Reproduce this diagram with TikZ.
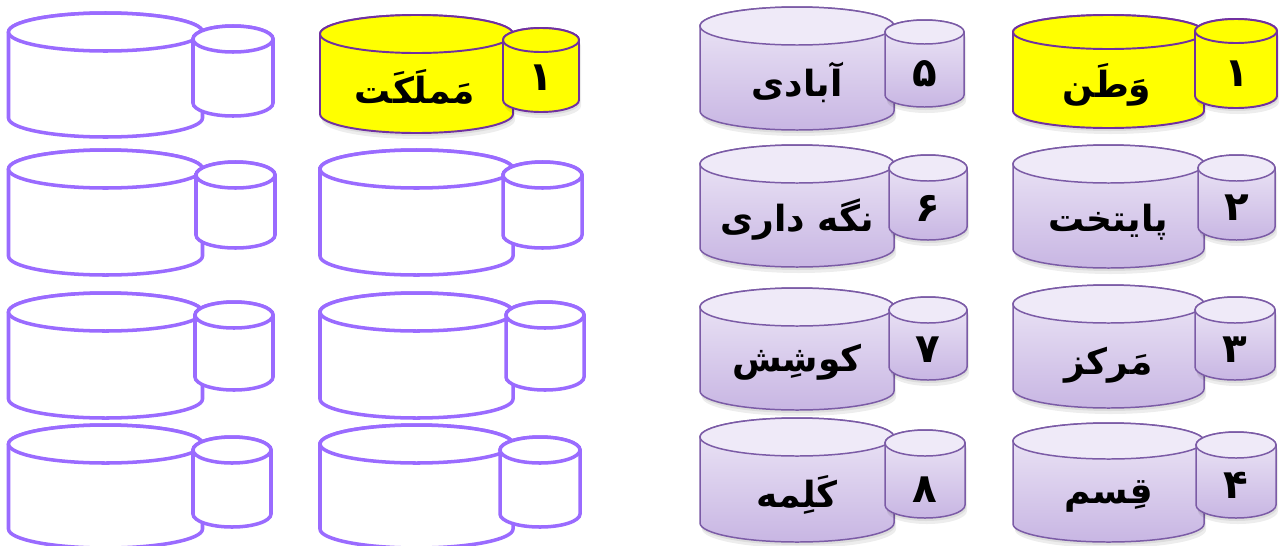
\documentclass[tikz,border=0pt]{standalone}
\usepackage{fontspec}
\TeXXeTstate=1
\newfontfamily\fa[Script=Arabic]{DejaVu Sans}
\definecolor{lavtop}{HTML}{EEE8F7}
\definecolor{lavbot}{HTML}{C8B6E3}
\definecolor{lavcapc}{HTML}{EFEAF8}
\definecolor{lavline}{HTML}{7B5BA6}
\definecolor{yelline}{HTML}{7030A0}
\definecolor{yelfill}{HTML}{FFFF00}
\definecolor{emptyline}{HTML}{9A6BFF}
\tikzset{
  lavbody/.style={top color=lavtop, bottom color=lavbot, draw=lavline, line width=0.85pt},
  lavcap/.style={fill=lavcapc, draw=lavline, line width=0.85pt},
  lavshadow/.style={fill=black, fill opacity=0.07},
  yelbody/.style={fill=yelfill, draw=yelline, line width=1.1pt},
  yelcap/.style={fill=yelfill, draw=yelline, line width=1.1pt},
  yelshadow/.style={fill=black, fill opacity=0.07},
  emptybody/.style={fill=white, draw=emptyline, line width=2pt},
  emptycap/.style={fill=white, draw=emptyline, line width=2pt},
  emptyshadow/.style={},
  word/.style={font={\fa\bfseries\fontsize{20.5}{23}\selectfont}, text=black, inner sep=0pt},
  num/.style={font={\fa\bfseries\fontsize{23}{25}\selectfont}, text=black, inner sep=0pt},
}
% #1 cx, #2 width, #3 top (px), #4 bottom (px), #5 ry, #6 kind
\newcommand{\drumoutline}[5]{%
  (\dxl+#1,\dyt+#2) -- (\dxl+#1,\dyb+#2)
     arc[start angle=180, end angle=360, x radius=\drx, y radius=#3]
     -- (\dxr+#1,\dyt+#2)
     arc[start angle=0, end angle=180, x radius=\drx, y radius=#3] -- cycle}
\newcommand{\drum}[6]{%
  \pgfmathsetmacro\dxl{#1-#2/2}%
  \pgfmathsetmacro\dxr{#1+#2/2}%
  \pgfmathsetmacro\dyt{-(#3+#5)}%
  \pgfmathsetmacro\dyb{-(#4-#5)}%
  \pgfmathsetmacro\drx{#2/2}%
  \path[#6shadow] \drumoutline{1}{-3}{#5}{}{};
  \path[#6shadow] \drumoutline{2}{-6}{#5}{}{};
  \path[#6body] \drumoutline{0}{0}{#5}{}{};
  \path[#6cap] (#1,\dyt) ellipse[x radius=\drx, y radius=#5];
}
\begin{document}
\begin{tikzpicture}[x=0.02cm, y=0.02cm]
\useasboundingbox (0,0) rectangle (1280,-545);

% ---- column A (left, empty)
\drum{105.5}{194}{13}{137}{19}{empty}  \drum{233}{80}{26}{116}{13}{empty}
\drum{105.5}{194}{150}{275}{19}{empty} \drum{235.5}{79}{162}{248}{13}{empty}
\drum{105.5}{194}{293}{418}{19}{empty} \drum{234}{78}{302}{390}{13}{empty}
\drum{105.5}{194}{425}{548}{19}{empty} \drum{232}{78}{437}{527}{13}{empty}

% ---- column B
\drum{416.5}{193}{15}{133}{19}{yel}    \drum{541}{76}{28}{112}{12}{yel}
\drum{416.5}{193}{150}{275}{19}{empty} \drum{542.5}{79}{162}{248}{13}{empty}
\drum{416.5}{193}{293}{418}{19}{empty} \drum{545}{78}{302}{390}{13}{empty}
\drum{416.5}{193}{425}{548}{19}{empty} \drum{540}{80}{437}{527}{13}{empty}

% ---- column C
\drum{797}{194}{7}{130}{19}{lav}   \drum{924.5}{79}{20}{107}{12}{lav}
\drum{797}{194}{145}{267}{19}{lav} \drum{928}{78}{155}{240}{13}{lav}
\drum{797}{194}{288}{410}{19}{lav} \drum{928}{78}{297}{380}{13}{lav}
\drum{797}{194}{418}{542}{19}{lav} \drum{925}{80}{430}{518}{13}{lav}

% ---- column D
\drum{1108.5}{191}{15}{128}{17}{yel}  \drum{1236}{82}{19}{108}{12}{yel}
\drum{1108.5}{191}{145}{268}{19}{lav} \drum{1236.5}{77}{155}{240}{13}{lav}
\drum{1108.5}{191}{285}{408}{19}{lav} \drum{1235}{80}{297}{380}{13}{lav}
\drum{1108.5}{191}{423}{542}{18}{lav} \drum{1236}{80}{432}{518}{13}{lav}

% ---- texts
\node[word] (mamlekat) at (415,-87)  {\beginR مَملَکَت\endR};
\node[num]  (nB1)      at (541,-78)  {۱};

\node[word] (abadi)    at (797,-82)  {\beginR آبادی\endR};
\node[num]  (n5)       at (924.5,-74) {۵};
\node[word] (negahdari) at (797,-220) {\beginR نگه داری\endR};
\node[num]  (n6)       at (928,-208) {۶};
\node[word] (koushesh) at (797,-362) {\beginR کوشِش\endR};
\node[num]  (n7)       at (928,-350) {۷};
\node[word] (kalame)   at (797,-495) {\beginR کَلِمه\endR};
\node[num]  (n8)       at (925,-490) {۸};

\node[word] (vatan)    at (1107,-85)  {\beginR وَطَن\endR};
\node[num]  (n1)       at (1237,-74)  {۱};
\node[word] (paytakht) at (1108.5,-222) {\beginR پایتخت\endR};
\node[num]  (n2)       at (1236.5,-208) {۲};
\node[word] (markaz)   at (1108.5,-365) {\beginR مَرکز\endR};
\node[num]  (n3)       at (1235,-350) {۳};
\node[word] (ghesm)    at (1108.5,-496) {\beginR قِسم\endR};
\node[num]  (n4)       at (1236,-485) {۴};
\end{tikzpicture}
\end{document}
